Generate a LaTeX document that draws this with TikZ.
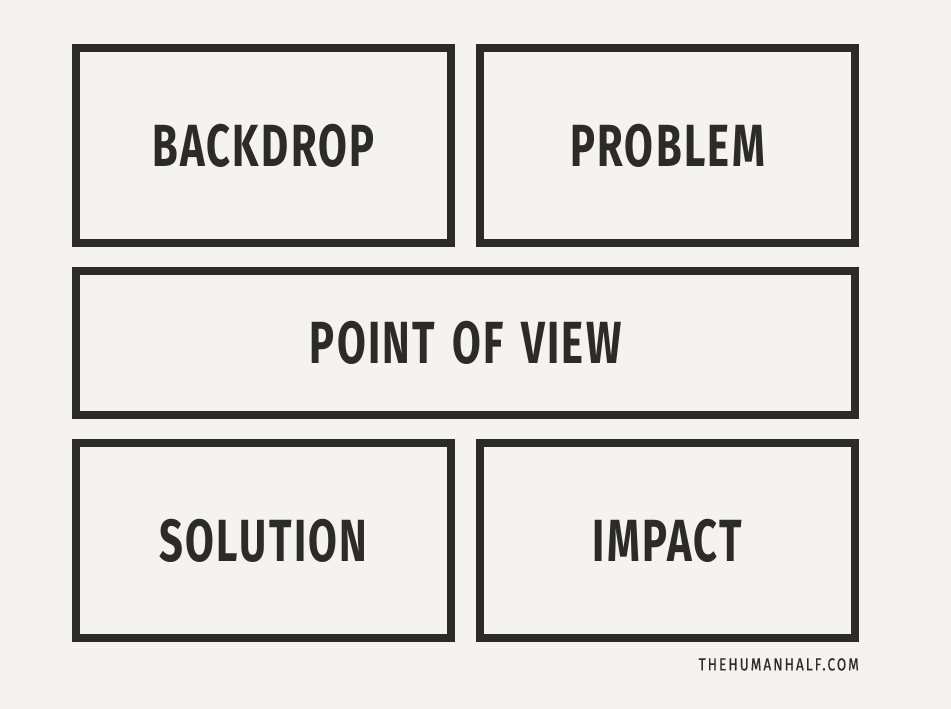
\documentclass[tikz,border=0pt]{standalone}
\usepackage{fontspec}
\usetikzlibrary{positioning}
\setmainfont{Fira Sans}
\newfontfamily\panelfont[FakeStretch=0.70,LetterSpace=4,WordSpace=1.4]{Fira Sans}
\newfontfamily\footerfont[FakeStretch=0.78,LetterSpace=12,FakeBold=0.6]{Fira Sans}
\definecolor{paper}{HTML}{F4F3EF}
\definecolor{ink}{HTML}{2B2B28}

\begin{document}
\begin{tikzpicture}[x=1pt, y=1pt, node distance=20pt and 21pt,
    panel/.style={draw=ink, line width=8pt, outer sep=4pt, inner sep=0pt,
      minimum width=375pt, minimum height=195pt, text=ink,
      font=\panelfont\bfseries\fontsize{59.5}{60}\selectfont},
    widepanel/.style={panel, minimum width=779pt, minimum height=144pt},
    footer/.style={inner sep=0pt, text=ink,
      font=\footerfont\fontsize{17.4}{18}\selectfont}]
  \fill[paper] (0,0) rectangle (951,-709);
  \useasboundingbox (0,0) rectangle (951,-709);

  % top row
  \node[panel, anchor=north west] (backdrop) at (72,-44) {BACKDROP};
  \node[panel, right=of backdrop] (problem) {PROBLEM};

  % middle band
  \node[widepanel, below=of backdrop.south west, anchor=north west] (pov) {POINT OF VIEW};

  % bottom row
  \node[panel, below=of pov.south west, anchor=north west] (solution) {SOLUTION};
  \node[panel, right=of solution] (impact) {IMPACT};

  \node[footer, below left=16pt and 0pt of impact.south east] (site) {THEHUMANHALF.COM};
\end{tikzpicture}
\end{document}
